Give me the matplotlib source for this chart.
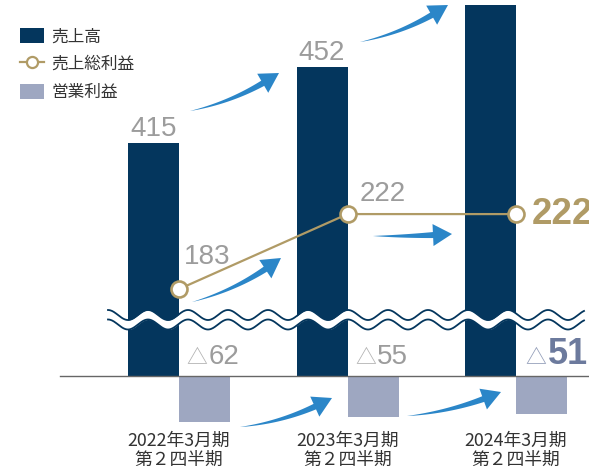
import matplotlib
matplotlib.use('Agg')
import matplotlib.pyplot as plt
import numpy as np
from matplotlib.patches import Patch, Polygon
from matplotlib.lines import Line2D

plt.rcParams['font.family'] = ['Noto Sans CJK JP', 'DejaVu Sans']

# data (百万円)
periods = ['2022年3月期\n第２四半期', '2023年3月期\n第２四半期', '2024年3月期\n第２四半期']
sales = [415, 452, 483]
gross = [183, 222, 222]
op_profit = [-62, -55, -51]

NAVY = '#04365d'
GOLD = '#b09b66'
LILAC = '#9ea7c1'
BLUE = '#2b86c8'
GRAY_TXT = '#9c9c9c'
NUM_FONT = ['Liberation Sans', 'DejaVu Sans']

W, H = 589, 470
AXIS_Y = 376          # pixel row of the zero line
PITCH, X_FIRST = 168.5, 179
BW = 51 / PITCH

fig = plt.figure(figsize=(W / 100, H / 100), dpi=100)
xlim = (-X_FIRST / PITCH, (W - X_FIRST) / PITCH)
xs = np.arange(len(periods))


def layer(px_per_unit, value_at_axis, z):
    # broken axis: every series gets its own vertical scale
    ax = fig.add_axes([0, 0, 1, 1], zorder=z)
    ax.set_xlim(*xlim)
    ax.set_ylim(value_at_axis - (H - AXIS_Y) / px_per_unit,
                value_at_axis + AXIS_Y / px_per_unit)
    ax.axis('off')
    return ax


SALES_BASE = 300
ax_s = layer(2.03, SALES_BASE, 1)
ax_o = layer(0.745, 0, 1.5)
ax_d = fig.add_axes([0, 0, 1, 1], zorder=2)
ax_d.set_xlim(0, W)
ax_d.set_ylim(H, 0)
ax_d.axis('off')
ax_g = layer(1.923, 137.8, 3)

# 売上高
ax_s.bar(xs - BW / 2, [v - SALES_BASE for v in sales], bottom=SALES_BASE,
         width=BW, color=NAVY)
for x, v in zip(xs[:2], sales[:2]):
    ax_s.annotate(f'{v}', (x - BW / 2, v), xytext=(0, 5), textcoords='offset points',
                  ha='center', va='baseline', fontsize=20, color=GRAY_TXT, family=NUM_FONT)

# 営業利益
ax_o.bar(xs + BW / 2, op_profit, width=BW, color=LILAC)
for i, (x, v) in enumerate(zip(xs, op_profit)):
    last = i == len(xs) - 1
    ax_o.annotate(f'{-v}', (x + BW / 2, 0), xytext=(4.5 if last else 3, 8.6),
                  textcoords='offset points',
                  ha='left', va='baseline', fontsize=26 if last else 20,
                  fontweight='bold' if last else 'normal',
                  color='#6c7a9d' if last else GRAY_TXT, family=NUM_FONT)
    ax_o.annotate('△', (x + BW / 2, 0), xytext=(3.5 if last else 2, 9),
                  textcoords='offset points',
                  ha='right', va='baseline', fontsize=15,
                  color='#909bb7' if last else '#b0b0b0')

# period labels
for x, lab in zip(xs, periods):
    ax_o.annotate(lab, (x, 0), xytext=(0, -53.5), textcoords='offset points',
                  ha='center', va='center', fontsize=12.8, color='#333333',
                  linespacing=1.1, multialignment='center')

# wave break
wx = np.linspace(108, 584, 800)
wy = 315 - 5 * np.cos(2 * np.pi * (wx - 148) / 40)
ax_d.fill_between(wx, wy, wy + 9.5, color='white', lw=0)
ax_d.plot(wx, wy, color=NAVY, lw=1.3)
ax_d.plot(wx, wy + 9.5, color=NAVY, lw=1.3)

# zero line
ax_d.plot([60, W], [AXIS_Y, AXIS_Y], color='#666666', lw=1)


def swoosh(tail, tip, bend=0.1, neck_w=3.0, head_len=19, head_w=11):
    p0 = np.array(tail, float)
    p2 = np.array(tip, float)
    d = p2 - p0
    L = np.hypot(*d)
    u = d / L
    nrm = np.array([-u[1], u[0]])
    c = (p0 + p2) / 2 + nrm * bend * L
    tn = 1 - head_len / L
    t = np.linspace(0, tn, 120)[:, None]
    B = (1 - t) ** 2 * p0 + 2 * (1 - t) * t * c + t ** 2 * p2
    dB = 2 * (1 - t) * (c - p0) + 2 * t * (p2 - c)
    tg = dB / np.hypot(dB[:, 0], dB[:, 1])[:, None]
    nn = np.column_stack([-tg[:, 1], tg[:, 0]])
    w = neck_w * (t / tn) ** 0.9
    upper = B + nn * w
    lower = B - nn * w
    neck, nend = B[-1], nn[-1]
    pts = np.vstack([upper, neck + nend * head_w, p2, neck - nend * head_w, lower[::-1]])
    ax_d.add_patch(Polygon(pts, closed=True, color=BLUE, lw=0))


swoosh((190, 111), (279, 73))
swoosh((360, 42), (448, 5))
swoosh((192, 302), (281, 258))
swoosh((373, 236), (452, 234), bend=0.02)
swoosh((240, 427), (332, 398))
swoosh((407, 416), (501, 392), bend=0.08)

# 売上総利益
ax_g.plot(xs, gross, color=GOLD, lw=1.6, marker='o', ms=11.5, mfc='white',
          mec=GOLD, mew=1.9)
ax_g.annotate(f'{gross[0]}', (xs[0], gross[0]), xytext=(3.5, 18), textcoords='offset points',
              ha='left', va='baseline', fontsize=20, color=GRAY_TXT, family=NUM_FONT)
ax_g.annotate(f'{gross[1]}', (xs[1], gross[1]), xytext=(8.5, 9.4), textcoords='offset points',
              ha='left', va='baseline', fontsize=20, color=GRAY_TXT, family=NUM_FONT)
ax_g.annotate(f'{gross[2]}', (xs[2], gross[2]), xytext=(11, -7), textcoords='offset points',
              ha='left', va='baseline', fontsize=26.5, fontweight='bold', color=GOLD,
              family=NUM_FONT)

handles = [Patch(facecolor=NAVY),
           Line2D([], [], color=GOLD, lw=1.6, marker='o', ms=8, mfc='white', mec=GOLD, mew=1.6),
           Patch(facecolor=LILAC)]
ax_d.legend(handles, ['売上高', '売上総利益', '営業利益'], loc='upper left',
            bbox_to_anchor=(20 / W, 1 - 28 / H), frameon=False, fontsize=12,
            handlelength=1.45, handleheight=1.05, handletextpad=0.45,
            labelspacing=0.62, borderpad=0, borderaxespad=0, labelcolor='#333333')

fig.savefig('out.png', dpi=100)
